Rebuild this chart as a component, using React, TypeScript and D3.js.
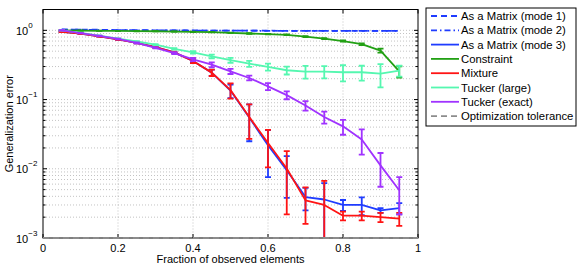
import React from "react";
import * as d3 from "d3";

// fraction of observed elements
const fractions = [0.05, 0.1, 0.15, 0.2, 0.25, 0.3, 0.35, 0.4, 0.45, 0.5, 0.55, 0.6, 0.65, 0.7, 0.75, 0.8, 0.85, 0.9, 0.95];

const matrixMode1 = [1.03, 1.02, 1.02, 1.01, 1.01, 1.0, 1.0, 1.0, 0.99, 0.99, 0.99, 0.99, 0.98, 0.98, 0.98, 0.98, 0.98, 0.98, 0.98];
const matrixMode2 = [1.02, 1.02, 1.01, 1.01, 1.0, 1.0, 1.0, 0.99, 0.99, 0.99, 0.99, 0.98, 0.98, 0.98, 0.98, 0.98, 0.98, 0.98, 0.98];
const matrixMode3 = [0.95, 0.9, 0.82, 0.74, 0.66, 0.57, 0.48, 0.36, 0.245, 0.135, 0.055, 0.0219, 0.0095, 0.0039, 0.0036, 0.003, 0.003, 0.0025, 0.0027];
const matrixMode3Err = [0.01, 0.01, 0.01, 0.01, 0.01, 0.01, 0.01, 0.02, 0.025, 0.03, 0.03, 0.0143, 0.0057, 0.0014, 0.0026, 0.00054, 0.00087, 0.0002, 0.0005];
const constraint = [1.0, 0.99, 0.985, 0.98, 0.975, 0.97, 0.96, 0.95, 0.94, 0.92, 0.9, 0.88, 0.86, 0.81, 0.76, 0.7, 0.63, 0.51, 0.255];
const constraintErr = [0.005, 0.005, 0.005, 0.005, 0.005, 0.005, 0.005, 0.005, 0.006, 0.006, 0.007, 0.008, 0.01, 0.012, 0.012, 0.015, 0.018, 0.035, 0.048];
const mixture = [0.95, 0.9, 0.82, 0.74, 0.66, 0.57, 0.48, 0.36, 0.245, 0.137, 0.056, 0.0235, 0.0101, 0.0035, 0.003, 0.0021, 0.0021, 0.002, 0.0019];
const mixtureErr = [0.01, 0.01, 0.01, 0.01, 0.01, 0.01, 0.012, 0.025, 0.026, 0.034, 0.029, 0.013, 0.0079, 0.0019, 0.0037, 0.0003, 0.0003, 0.0003, 0.0004];
const tuckerLarge = [1.0, 0.92, 0.84, 0.76, 0.69, 0.62, 0.54, 0.48, 0.42, 0.37, 0.33, 0.296, 0.265, 0.253, 0.253, 0.248, 0.248, 0.237, 0.261];
const tuckerLargeErr = [0.005, 0.005, 0.006, 0.007, 0.008, 0.01, 0.015, 0.02, 0.025, 0.03, 0.033, 0.035, 0.035, 0.053, 0.051, 0.065, 0.06, 0.087, 0.047];
const tuckerExact = [1.0, 0.91, 0.83, 0.75, 0.66, 0.56, 0.47, 0.38, 0.32, 0.256, 0.205, 0.155, 0.116, 0.082, 0.056, 0.041, 0.0265, 0.0112, 0.0049];
const tuckerExactErr = [0.005, 0.006, 0.007, 0.008, 0.01, 0.012, 0.015, 0.02, 0.025, 0.022, 0.016, 0.018, 0.015, 0.0127, 0.011, 0.01, 0.0105, 0.0057, 0.0027];
const tolerance = 1e-3;

const xTicks = [0, 0.2, 0.4, 0.6, 0.8, 1];
const xTickLabels = ["0", "0.2", "0.4", "0.6", "0.8", "1"];
const yDecades = [1, 0.1, 0.01, 0.001];
const yExponents = ["0", "\u22121", "\u22122", "\u22123"];

const series = [
  { name: "As a Matrix (mode 1)", values: matrixMode1, err: null, color: "#1f3cff", dash: "6,4" },
  { name: "As a Matrix (mode 2)", values: matrixMode2, err: null, color: "#1f3cff", dash: "6,3,1.5,3" },
  { name: "As a Matrix (mode 3)", values: matrixMode3, err: matrixMode3Err, color: "#1f3cff", dash: null },
  { name: "Constraint", values: constraint, err: constraintErr, color: "#22a014", dash: null },
  { name: "Mixture", values: mixture, err: mixtureErr, color: "#ff1414", dash: null },
  { name: "Tucker (large)", values: tuckerLarge, err: tuckerLargeErr, color: "#55f7b0", dash: null },
  { name: "Tucker (exact)", values: tuckerExact, err: tuckerExactErr, color: "#a033ff", dash: null },
];

const W = 581, H = 268;
const plot = { left: 43, right: 418, top: 9.5, bottom: 238 };
const font = "'Liberation Sans', Arial, Helvetica, sans-serif";

export default function App() {
  const x = d3.scaleLinear().domain([0, 1]).range([plot.left, plot.right]);
  const y = d3.scaleLog().domain([1e-3, 2]).range([plot.bottom, plot.top]);

  const minorY: number[] = [];
  [0.001, 0.01, 0.1, 1].forEach((d) => {
    for (let k = 1; k <= 9; k++) {
      const v = d * k;
      if (v > 1e-3 && v < 2) minorY.push(v);
    }
  });

  const line = d3.line<number>().x((_, i) => x(fractions[i])).y((d) => y(d));

  const legendRows = [
    ...series.map((s) => ({ name: s.name, color: s.color, dash: s.dash })),
    { name: "Optimization tolerance", color: "#8c8c8c", dash: "6,4" },
  ];

  return (
    <svg width={W} height={H} style={{ position: "absolute", left: 0, top: 0, background: "#fff" }} fontFamily={font}>
      <defs>
        <clipPath id="plotClip">
          <rect x={plot.left} y={plot.top} width={plot.right - plot.left} height={plot.bottom - plot.top} />
        </clipPath>
      </defs>
      <rect x={plot.left} y={plot.top} width={plot.right - plot.left} height={plot.bottom - plot.top} fill="#fff" />

      {/* grid */}
      <g stroke="#9a9a9a" strokeWidth={0.6} strokeDasharray="1,2">
        {xTicks.slice(1, -1).map((t) => (
          <line key={"gx" + t} x1={x(t)} x2={x(t)} y1={plot.top} y2={plot.bottom} />
        ))}
        {minorY.map((v) => (
          <line key={"gy" + v} x1={plot.left} x2={plot.right} y1={y(v)} y2={y(v)} />
        ))}
      </g>

      {/* series */}
      <g clipPath="url(#plotClip)" fill="none">
        {series.map((s) => (
          <g key={s.name} stroke={s.color} strokeWidth={1.8}>
            <path d={line(s.values) || ""} strokeDasharray={s.dash || undefined} strokeLinejoin="round" />
            {s.err &&
              s.values.map((v, i) => {
                const e = s.err![i];
                const px = x(fractions[i]);
                const yt = y(v + e);
                const lo = v - e;
                const yb = lo > 1e-3 ? y(lo) : plot.bottom + 2;
                return (
                  <g key={i}>
                    <line x1={px} x2={px} y1={yt} y2={yb} />
                    <line x1={px - 3} x2={px + 3} y1={yt} y2={yt} />
                    {lo > 1e-3 && <line x1={px - 3} x2={px + 3} y1={yb} y2={yb} />}
                  </g>
                );
              })}
          </g>
        ))}
      </g>

      {/* axes box and ticks */}
      <g stroke="#000" strokeWidth={1} fill="none">
        <rect x={plot.left} y={plot.top} width={plot.right - plot.left} height={plot.bottom - plot.top} />
        {xTicks.map((t) => (
          <g key={"tx" + t}>
            <line x1={x(t)} x2={x(t)} y1={plot.bottom} y2={plot.bottom - 4} />
            <line x1={x(t)} x2={x(t)} y1={plot.top} y2={plot.top + 4} />
          </g>
        ))}
        {minorY.map((v) => {
          const major = yDecades.includes(v);
          const len = major ? 4 : 2.5;
          return (
            <g key={"ty" + v}>
              <line x1={plot.left} x2={plot.left + len} y1={y(v)} y2={y(v)} />
              <line x1={plot.right} x2={plot.right - len} y1={y(v)} y2={y(v)} />
            </g>
          );
        })}
      </g>

      {/* optimization tolerance */}
      <line x1={x(0)} x2={x(1)} y1={y(tolerance)} y2={y(tolerance)} stroke="#8c8c8c" strokeWidth={1.8} strokeDasharray="6,4" />

      {/* tick labels */}
      <g fontSize={11} fill="#000">
        {xTicks.map((t, i) => (
          <text key={"lx" + t} x={x(t)} y={251.5} textAnchor="middle">{xTickLabels[i]}</text>
        ))}
        {yDecades.map((v, i) => (
          <text key={"ly" + v} x={16} y={y(v) + 4.5}>
            10<tspan dy={-7} fontSize={8}>{yExponents[i]}</tspan>
          </text>
        ))}
        <text x={x(0.5)} y={263} textAnchor="middle">Fraction of observed elements</text>
        <text transform={`translate(13,${(plot.top + plot.bottom) / 2}) rotate(-90)`} textAnchor="middle">Generalization error</text>
      </g>

      {/* legend */}
      <g>
        <rect x={426} y={8} width={150} height={118} fill="#fff" stroke="#000" strokeWidth={1} />
        {legendRows.map((r, i) => {
          const ry = 16 + i * 14.3;
          return (
            <g key={r.name}>
              <line x1={431} x2={459} y1={ry} y2={ry} stroke={r.color} strokeWidth={1.8} strokeDasharray={r.dash || undefined} />
              <text x={461} y={ry + 4} fontSize={11.3} fill="#000">{r.name}</text>
            </g>
          );
        })}
      </g>
    </svg>
  );
}
